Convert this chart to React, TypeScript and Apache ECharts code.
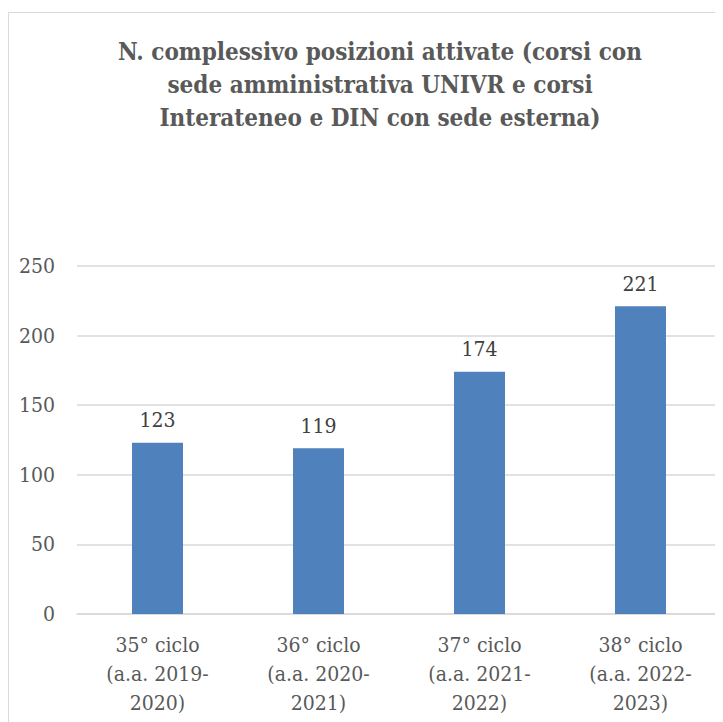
import React, { useEffect, useRef } from "react";
import * as echarts from "echarts";

const titleText =
  "N. complessivo posizioni attivate (corsi con\nsede amministrativa UNIVR e corsi\nInterateneo e DIN con sede esterna)";
const categories = [
  "35° ciclo\n(a.a. 2019-\n2020)",
  "36° ciclo\n(a.a. 2020-\n2021)",
  "37° ciclo\n(a.a. 2021-\n2022)",
  "38° ciclo\n(a.a. 2022-\n2023)",
];
const values = [123, 119, 174, 221];

const FONT = "DejaVu Serif Condensed";

export default function App() {
  const ref = useRef<HTMLDivElement>(null);
  useEffect(() => {
    if (!ref.current) return;
    const chart = echarts.init(ref.current, null, { renderer: "svg" });
    chart.setOption({
      animation: false,
      backgroundColor: "#ffffff",
      title: {
        text: titleText,
        left: 367,
        top: 22,
        textAlign: "center",
        textStyle: {
          fontFamily: FONT,
          fontSize: 24,
          fontWeight: "bold",
          color: "#595959",
          lineHeight: 33,
        },
      },
      graphic: [
        {
          type: "rect",
          shape: { x: 0.5, y: 4.5, width: 900, height: 900 },
          style: { fill: "none", stroke: "#d9d9d9", lineWidth: 1 },
          silent: true,
          z: -1,
        },
      ],
      grid: { left: 69, right: 2, top: 258, bottom: 108 },
      xAxis: {
        type: "category",
        data: categories,
        axisLine: { lineStyle: { color: "#d9d9d9", width: 1.5 } },
        axisTick: { show: false },
        axisLabel: {
          fontFamily: FONT,
          fontSize: 21,
          color: "#595959",
          lineHeight: 29,
          margin: 16,
          interval: 0,
        },
      },
      yAxis: {
        type: "value",
        min: 0,
        max: 250,
        interval: 50,
        axisLine: { show: false },
        axisTick: { show: false },
        splitLine: { lineStyle: { color: "#d9d9d9", width: 1.5 } },
        axisLabel: {
          fontFamily: FONT,
          fontSize: 21,
          color: "#595959",
          margin: 22,
        },
      },
      series: [
        {
          type: "bar",
          data: values,
          barWidth: 51,
          itemStyle: { color: "#4f81bd" },
          label: {
            show: true,
            position: "top",
            distance: 12,
            fontFamily: FONT,
            fontSize: 21,
            color: "#404040",
          },
        },
      ],
    });
    return () => chart.dispose();
  }, []);
  return <div ref={ref} style={{ width: 715, height: 714 }} />;
}
